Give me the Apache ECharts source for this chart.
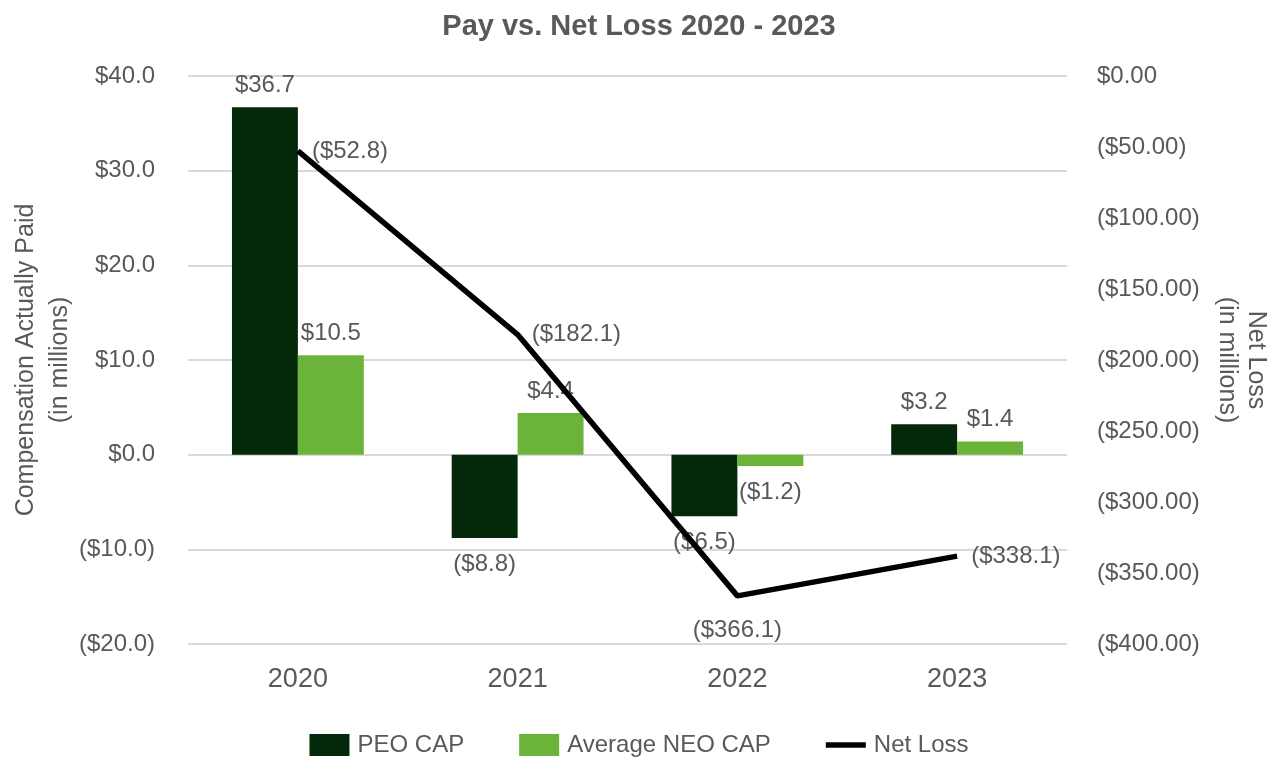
<!DOCTYPE html>
<html>
<head>
<meta charset="utf-8">
<script src="https://cdn.jsdelivr.net/npm/echarts@6/dist/echarts.min.js"></script>
<style>
html,body{margin:0;padding:0;background:#fff;}
#chart{width:1278px;height:759px;}
</style>
</head>
<body>
<div id="chart"></div>
<script>
const years = ['2020', '2021', '2022', '2023'];
const peoCap = [36.7, -8.8, -6.5, 3.2];
const neoCap = [10.5, 4.4, -1.2, 1.4];
const netLoss = [-52.8, -182.1, -366.1, -338.1];
const lineLabelPos = ['right', 'right', 'bottom', 'right'];

const txt = '#595959';
const font = 'Liberation Sans, Arial, sans-serif';

function money(v, d) {
  return v < 0 ? '($' + (-v).toFixed(d) + ')' : '$' + v.toFixed(d);
}
function barData(arr) {
  return arr.map(v => ({
    value: v,
    label: { position: v < 0 ? 'bottom' : 'top', distance: v < 0 ? 14 : 10 }
  }));
}

const chart = echarts.init(document.getElementById('chart'));
chart.setOption({
  animation: false,
  textStyle: { fontFamily: font },
  title: {
    text: 'Pay vs. Net Loss 2020 - 2023',
    left: 'center',
    top: 7,
    textStyle: { color: txt, fontSize: 29, fontWeight: 'bold', fontFamily: font }
  },
  legend: {
    left: 'center',
    top: 728,
    itemWidth: 40,
    itemHeight: 22,
    itemGap: 55,
    textStyle: { color: txt, fontSize: 24, fontFamily: font, padding: [0, 0, 0, 3] },
    data: [
      { name: 'PEO CAP', icon: 'rect' },
      { name: 'Average NEO CAP', icon: 'rect' },
      { name: 'Net Loss', icon: 'path://M0,0 H40 V5.5 H0 Z' }
    ]
  },
  grid: { left: 188, right: 211, top: 76, bottom: 115, outerBoundsMode: 'none', containLabel: false },
  xAxis: {
    type: 'category',
    data: years,
    axisLine: { show: false },
    axisTick: { show: false },
    axisLabel: { color: txt, fontSize: 27, margin: 22, fontFamily: font }
  },
  yAxis: [
    {
      type: 'value',
      min: -20, max: 40, interval: 10,
      name: 'Compensation Actually Paid\n(in millions)',
      nameLocation: 'middle',
      nameGap: 111,
      nameMoveOverlap: false,
      nameTextStyle: { color: txt, fontSize: 25, lineHeight: 34, fontFamily: font },
      axisLine: { show: false },
      axisTick: { show: false },
      axisLabel: { color: txt, fontSize: 24, margin: 33, fontFamily: font, formatter: v => money(v, 1) },
      splitLine: { lineStyle: { color: '#d9d9d9', width: 2 } }
    },
    {
      type: 'value',
      min: -400, max: 0, interval: 50,
      position: 'right',
      name: 'Net Loss\n(in millions)',
      nameLocation: 'middle',
      nameRotate: -90,
      nameGap: 145,
      nameMoveOverlap: false,
      nameTextStyle: { color: txt, fontSize: 25, lineHeight: 29, fontFamily: font },
      axisLine: { show: false },
      axisTick: { show: false },
      axisLabel: { color: txt, fontSize: 24, margin: 30, fontFamily: font, formatter: v => money(v, 2) },
      splitLine: { show: false }
    }
  ],
  series: [
    {
      name: 'PEO CAP',
      type: 'bar',
      data: barData(peoCap),
      barWidth: '30%',
      barGap: '0%',
      itemStyle: { color: '#03290a' },
      label: { show: true, color: txt, fontSize: 24, fontFamily: font, formatter: p => money(p.value, 1) }
    },
    {
      name: 'Average NEO CAP',
      type: 'bar',
      data: barData(neoCap),
      barWidth: '30%',
      barGap: '0%',
      itemStyle: { color: '#6cb33a' },
      label: { show: true, color: txt, fontSize: 24, fontFamily: font, formatter: p => money(p.value, 1) }
    },
    {
      name: 'Net Loss',
      type: 'line',
      yAxisIndex: 1,
      z: 5,
      data: netLoss.map((v, i) => ({
        value: v,
        label: { position: lineLabelPos[i], distance: lineLabelPos[i] === 'bottom' ? 22 : 14 }
      })),
      symbol: 'circle',
      symbolSize: 0.1,
      itemStyle: { color: '#000' },
      lineStyle: { color: '#000', width: 5.5 },
      label: { show: true, color: txt, fontSize: 24, fontFamily: font, formatter: p => money(p.value, 1) }
    }
  ]
});
</script>
</body>
</html>
